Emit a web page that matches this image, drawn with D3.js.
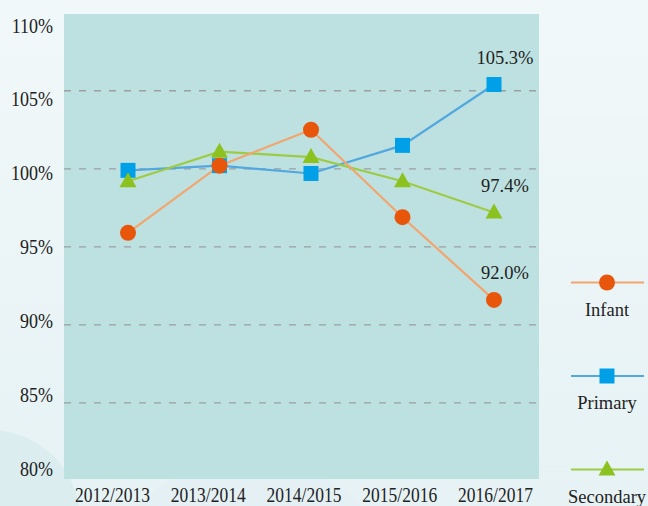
<!DOCTYPE html>
<html>
<head>
<meta charset="utf-8">
<script src="https://cdn.jsdelivr.net/npm/d3@7/dist/d3.min.js"></script>
<style>
  body { margin: 0; background: #eef6f7; }
  svg { display: block; font-family: "Liberation Serif", "Times New Roman", serif; }
</style>
</head>
<body>
<div id="chart"></div>
<script>
// ---------------- data
var years = ["2012/2013", "2013/2014", "2014/2015", "2015/2016", "2016/2017"];
var infant = [95.9, 100.2, 102.5, 96.9, 91.6];
var primary = [99.9, 100.2, 99.7, 101.5, 105.4];
var secondary = [99.2, 101.1, 100.75, 99.2, 97.2];
var yTicks = [80, 85, 90, 95, 100, 105, 110];
var gridTicks = [85, 90, 95, 100, 105];
var endLabels = ["92.0%", "105.3%", "97.4%"];
var seriesNames = ["Infant", "Primary", "Secondary"];

var width = 648, height = 506;
var plot = { left: 64, top: 14, right: 539, bottom: 479 };

var svg = d3.select("#chart").append("svg")
    .attr("width", width)
    .attr("height", height);

// background with soft circles
var defs = svg.append("defs");
var bg = defs.append("linearGradient").attr("id", "bg")
    .attr("x1", 0).attr("y1", 0).attr("x2", 0).attr("y2", 1);
bg.append("stop").attr("offset", "0%").attr("stop-color", "#f1f8f9");
bg.append("stop").attr("offset", "100%").attr("stop-color", "#e6f2f4");
svg.append("rect").attr("width", width).attr("height", height).attr("fill", "url(#bg)");
svg.append("circle").attr("cx", -10).attr("cy", 520).attr("r", 90).attr("fill", "#dcedf0");
svg.append("circle").attr("cx", 250).attr("cy", 620).attr("r", 160).attr("fill", "#e2f0f2").attr("opacity", 0.7);

// plot area
svg.append("rect")
    .attr("x", plot.left).attr("y", plot.top)
    .attr("width", plot.right - plot.left)
    .attr("height", plot.bottom - plot.top)
    .attr("fill", "#bde1e0");

// scales (markers and labels are offset slightly in the original)
var y = d3.scaleLinear().domain([80, 110]).range([481, 12.7]);
var yLab = d3.scaleLinear().domain([80, 110]).range([468, 25]);
var xMark = d3.scalePoint().domain(years).range([128, 494]);
var xLab = d3.scalePoint().domain(years).range([112, 495]);

// gridlines
svg.append("g").selectAll("line")
    .data(gridTicks)
    .enter().append("line")
    .attr("x1", plot.left).attr("x2", plot.right)
    .attr("y1", function(d) { return y(d); })
    .attr("y2", function(d) { return y(d); })
    .attr("stroke", "#9a9fa0")
    .attr("stroke-width", 1.3)
    .attr("stroke-dasharray", "7,8");

// y axis labels
var yAxis = svg.append("g")
    .attr("transform", "translate(56,0)")
    .call(d3.axisLeft(yLab).tickValues(yTicks).tickSize(0).tickPadding(3)
        .tickFormat(function(d) { return d + "%"; }));
yAxis.select(".domain").remove();
yAxis.attr("font-family", null);
yAxis.selectAll("text")
    .attr("font-size", 18)
    .attr("fill", "#222")
    .attr("transform", "scale(1,1.22)");

// x axis labels
var xAxis = svg.append("g")
    .attr("transform", "translate(0,502)")
    .call(d3.axisBottom(xLab).tickSize(0));
xAxis.select(".domain").remove();
xAxis.attr("font-family", null);
xAxis.selectAll("text")
    .attr("y", 0).attr("dy", 0)
    .attr("font-size", 17.5)
    .attr("fill", "#222")
    .attr("transform", "scale(1,1.2)");

// series
var series = [
    { name: seriesNames[1], values: primary, line: "#52a7df", mark: "#00a0e9", shape: "square" },
    { name: seriesNames[2], values: secondary, line: "#9ecb45", mark: "#8cc21f", shape: "triangle" },
    { name: seriesNames[0], values: infant, line: "#f2a56e", mark: "#e8560c", shape: "circle" }
];

var line = d3.line()
    .x(function(d, i) { return xMark(years[i]); })
    .y(function(d) { return y(d); });

function drawMarker(g, shape, color) {
    if (shape === "circle") {
        g.append("circle").attr("r", 8).attr("fill", color);
    } else if (shape === "square") {
        g.append("rect").attr("x", -7.5).attr("y", -7.5).attr("width", 15).attr("height", 15).attr("fill", color);
    } else {
        g.append("path").attr("d", "M0,-9L8.5,6L-8.5,6Z").attr("fill", color);
    }
}

series.forEach(function(s) {
    svg.append("path")
        .datum(s.values)
        .attr("d", line)
        .attr("fill", "none")
        .attr("stroke", s.line)
        .attr("stroke-width", 2.2);
});

series.forEach(function(s) {
    svg.append("g").selectAll("g")
        .data(s.values)
        .enter().append("g")
        .attr("transform", function(d, i) { return "translate(" + xMark(years[i]) + "," + y(d) + ")"; })
        .each(function() { drawMarker(d3.select(this), s.shape, s.mark); });
});

// end value labels
var lastIdx = years.length - 1;
var endVals = [infant[lastIdx], primary[lastIdx], secondary[lastIdx]];
svg.append("g").selectAll("text")
    .data(endLabels)
    .enter().append("text")
    .attr("x", xMark(years[lastIdx]) + 11)
    .attr("y", function(d, i) { return y(endVals[i]) - 21; })
    .attr("text-anchor", "middle")
    .attr("font-size", 18.5)
    .attr("fill", "#222")
    .text(function(d) { return d; });

// legend
var legendColors = [
    { line: "#f2a56e", mark: "#e8560c", shape: "circle" },
    { line: "#52a7df", mark: "#00a0e9", shape: "square" },
    { line: "#9ecb45", mark: "#8cc21f", shape: "triangle" }
];
var legend = svg.append("g").selectAll("g")
    .data(seriesNames)
    .enter().append("g")
    .attr("transform", function(d, i) { return "translate(607," + (282.5 + i * 93.5) + ")"; });
legend.append("line")
    .attr("x1", -36).attr("x2", 37)
    .attr("stroke", function(d, i) { return legendColors[i].line; })
    .attr("stroke-width", 2.2);
legend.each(function(d, i) { drawMarker(d3.select(this), legendColors[i].shape, legendColors[i].mark); });
legend.append("text")
    .attr("y", 33)
    .attr("text-anchor", "middle")
    .attr("font-size", 18.5)
    .attr("fill", "#222")
    .text(function(d) { return d; });
</script>
</body>
</html>
